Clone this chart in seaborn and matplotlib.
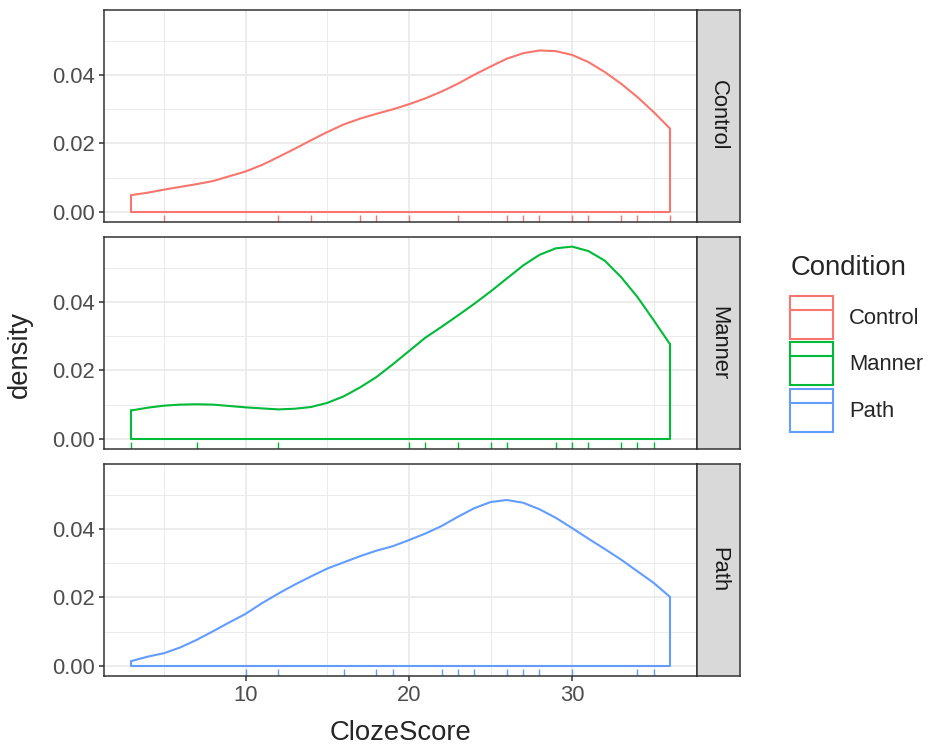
import numpy as np
import pandas as pd
import matplotlib
matplotlib.use('Agg')
import matplotlib.pyplot as plt
import seaborn as sns
from matplotlib.patches import Patch
from matplotlib.lines import Line2D

conditions = ['Control', 'Manner', 'Path']
colors = ['#F8766D', '#00BA38', '#619CFF']

# scores shown as rug ticks
control_scores = [5, 12, 14, 17, 18, 20, 23, 26, 27, 28, 30, 31, 33, 34, 36]
manner_scores = [3, 7, 12, 20, 21, 23, 25, 26, 29, 30, 31, 33, 34, 35]
path_scores = [10, 12, 16, 18, 19, 22, 23, 24, 26, 27, 28, 30, 34, 35]

# density curves, one value per score 3..36
score_grid = list(range(3, 37))
control_density = [0.0049, 0.0056, 0.0065, 0.0073, 0.0081, 0.0090, 0.0104, 0.0118,
                   0.0137, 0.0160, 0.0184, 0.0209, 0.0233, 0.0255, 0.0272, 0.0286,
                   0.0299, 0.0314, 0.0331, 0.0351, 0.0374, 0.0400, 0.0424, 0.0447,
                   0.0463, 0.0471, 0.0469, 0.0458, 0.0437, 0.0408, 0.0374, 0.0335,
                   0.0291, 0.0243]
manner_density = [0.0083, 0.0091, 0.0097, 0.0100, 0.0101, 0.0100, 0.0096, 0.0092,
                  0.0089, 0.0086, 0.0088, 0.0093, 0.0105, 0.0124, 0.0150, 0.0180,
                  0.0217, 0.0256, 0.0295, 0.0327, 0.0360, 0.0394, 0.0430, 0.0468,
                  0.0506, 0.0537, 0.0556, 0.0561, 0.0548, 0.0520, 0.0472, 0.0414,
                  0.0346, 0.0276]
path_density = [0.0014, 0.0027, 0.0037, 0.0054, 0.0076, 0.0101, 0.0127, 0.0152,
                0.0183, 0.0211, 0.0237, 0.0261, 0.0284, 0.0302, 0.0320, 0.0336,
                0.0349, 0.0367, 0.0386, 0.0408, 0.0435, 0.0460, 0.0478, 0.0484,
                0.0476, 0.0457, 0.0432, 0.0402, 0.0371, 0.0341, 0.0310, 0.0276,
                0.0242, 0.0201]

scores = {'Control': control_scores, 'Manner': manner_scores, 'Path': path_scores}
densities = {'Control': control_density, 'Manner': manner_density, 'Path': path_density}

dens_df = pd.concat([pd.DataFrame({'ClozeScore': score_grid, 'density': densities[c], 'Condition': c})
                     for c in conditions], ignore_index=True)

sns.set_theme(style='white')
plt.rcParams['font.family'] = ['Liberation Sans', 'DejaVu Sans']

W, H = 929, 748
fig = plt.figure(figsize=(W / 100, H / 100), dpi=100)

panel_tops = [10, 237, 464]
panel_h = 211.5
left, right = 104.5, 697
border = '#333333'
ymax = dens_df['density'].max()
ylim = (-0.05 * ymax, 1.05 * ymax)

for i, (cond, col) in enumerate(zip(conditions, colors)):
    top = panel_tops[i]
    ax = fig.add_axes([left / W, 1 - (top + panel_h) / H, (right - left) / W, panel_h / H])
    sub = dens_df[dens_df['Condition'] == cond]
    sns.lineplot(data=sub, x='ClozeScore', y='density', color=col, lw=1.5, ax=ax, legend=False)
    x = sub['ClozeScore'].values
    d = sub['density'].values
    ax.plot([x[-1], x[-1], x[0], x[0]], [d[-1], 0, 0, d[0]], color=col, lw=1.5)
    sns.rugplot(x=scores[cond], color=col, height=0.03, lw=1.5, ax=ax)

    ax.set_xlim(1.35, 37.65)
    ax.set_ylim(*ylim)
    ax.set_xticks([10, 20, 30])
    ax.set_xticks([5, 15, 25, 35], minor=True)
    ax.set_yticks([0, 0.02, 0.04])
    ax.set_yticks([0.01, 0.03, 0.05], minor=True)
    ax.set_yticklabels(['0.00', '0.02', '0.04'])
    ax.grid(which='major', color='#EBEBEB', lw=1.3)
    ax.grid(which='minor', color='#EBEBEB', lw=0.7)
    ax.set_axisbelow(True)
    for s in ax.spines.values():
        s.set_color(border)
        s.set_linewidth(1.1)
    ax.tick_params(which='major', direction='out', length=3.6, width=1.1, color=border,
                   labelcolor='#4D4D4D', labelsize=15.8, pad=3, left=True, bottom=True)
    ax.tick_params(which='minor', length=0)
    ax.set_xlabel('')
    ax.set_ylabel('')
    if i < 2:
        ax.tick_params(axis='x', bottom=False, labelbottom=False)

    # facet strip on the right
    sax = fig.add_axes([right / W, 1 - (top + panel_h) / H, 43 / W, panel_h / H])
    sax.set_facecolor('#D9D9D9')
    sax.set_xticks([])
    sax.set_yticks([])
    for s in sax.spines.values():
        s.set_color(border)
        s.set_linewidth(1.1)
    sax.text(0.5, 0.5, cond, rotation=-90, ha='center', va='center', fontsize=15.8,
             color='#1A1A1A', transform=sax.transAxes)

fig.text((left + right) / 2 / W, 1 - 733 / H, 'ClozeScore', ha='center', va='center', fontsize=19.8)
fig.text(20 / W, 1 - 355 / H, 'density', rotation=90, ha='center', va='center', fontsize=19.8)

# legend: title as separate text so the key column can sit lower
fig.text(791 / W, 1 - 268 / H, 'Condition', ha='left', va='center', fontsize=19.8)
handles = [(Patch(facecolor='white', edgecolor=c, lw=1.5), Line2D([], [], color=c, lw=1.5)) for c in colors]
fig.legend(handles, conditions, loc='upper left',
           bbox_to_anchor=(790 / W, 1 - 296 / H), frameon=False, fontsize=15.8,
           handlelength=1.95, handleheight=2.64, labelspacing=0.15,
           handletextpad=0.75, borderpad=0, borderaxespad=0)

fig.savefig('out.png', dpi=100)
